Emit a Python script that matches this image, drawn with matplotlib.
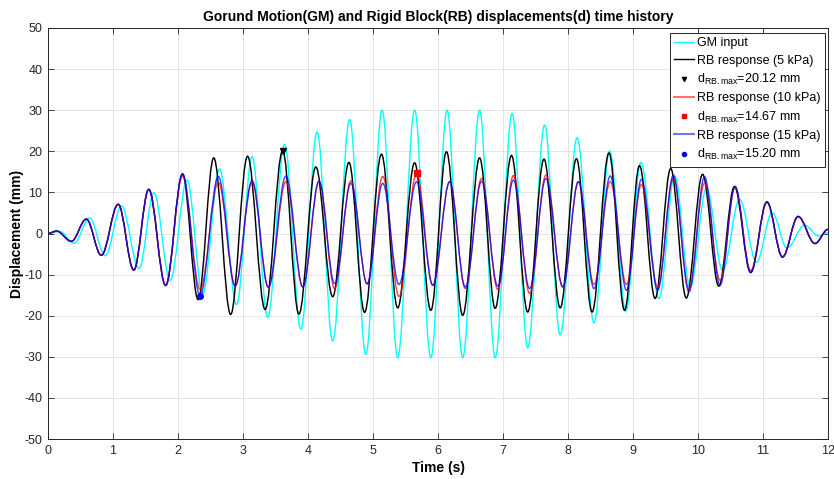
import matplotlib
matplotlib.use('Agg')
import matplotlib.pyplot as plt
from matplotlib.path import Path
from matplotlib.patches import PathPatch
from matplotlib.lines import Line2D

plt.rcParams['font.family'] = ['Liberation Sans', 'DejaVu Sans']
plt.rcParams['mathtext.fontset'] = 'custom'
plt.rcParams['mathtext.rm'] = 'Liberation Sans'
plt.rcParams['mathtext.it'] = 'Liberation Sans:italic'
plt.rcParams['mathtext.bf'] = 'Liberation Sans:bold'
plt.rcParams['axes.unicode_minus'] = False

# ---------------- data: extrema (time, displacement) ----
gm_t = [0, 0.18, 0.40, 0.64, 0.88, 1.13, 1.40, 1.63, 1.88, 2.14, 2.38, 2.64, 2.90,
        3.14, 3.38, 3.64, 3.89, 4.14, 4.38, 4.64, 4.89, 5.14, 5.38, 5.64, 5.89,
        6.14, 6.38, 6.64, 6.88, 7.14, 7.38, 7.64, 7.88, 8.14, 8.40, 8.64, 8.89,
        9.12, 9.40, 9.64, 9.88, 10.13, 10.38, 10.64, 10.90, 11.14, 11.37, 11.64,
        11.86, 12.0]
gm_d = [0, 0.5, -2.4, 3.8, -5.4, 6.7, -8.5, 9.9, -11.4, 13.0, -14.6, 15.7, -17.3,
        18.7, -20.4, 21.7, -23.3, 24.7, -26.2, 27.7, -29.4, 30.0, -30.2, 30.0, -30.2,
        30.0, -30.2, 30.0, -30.2, 29.2, -27.8, 26.4, -24.7, 23.3, -21.7, 20.1, -18.9,
        17.3, -15.8, 14.0, -13.0, 11.0, -9.0, 8.3, -7.0, 5.1, -3.5, 2.0,
        -0.6, 0.2]

rb5_t = [0, 0.13, 0.36, 0.59, 0.82, 1.08, 1.32, 1.55, 1.81, 2.07, 2.31, 2.55, 2.81,
         3.07, 3.34, 3.61, 3.86, 4.12, 4.38, 4.63, 4.87, 5.13, 5.38, 5.64, 5.89,
         6.13, 6.38, 6.64, 6.88, 7.13, 7.38, 7.63, 7.88, 8.13, 8.37, 8.63, 8.87,
         9.10, 9.34, 9.58, 9.82, 10.07, 10.32, 10.56, 10.81, 11.06, 11.30, 11.54,
         11.80, 12.0]
rb5_d = [0, 0.6, -1.9, 3.5, -5.3, 7.1, -8.9, 10.7, -12.6, 14.4, -16.1, 18.4, -19.7,
         18.8, -18.5, 20.12, -19.6, 16.2, -15.4, 17.3, -19.2, 19.3, -18.1, 17.2, -18.7,
         19.9, -19.9, 18.4, -18.2, 19.0, -19.1, 18.1, -18.1, 18.2, -19.1, 19.6, -18.7,
         16.5, -15.8, 15.8, -15.7, 14.4, -12.8, 11.4, -9.5, 7.7, -5.7, 4.1,
         -2.4, 1.0]

rb10_t = [0, 0.13, 0.36, 0.59, 0.82, 1.08, 1.32, 1.55, 1.81, 2.07, 2.34, 2.62, 2.88,
          3.14, 3.39, 3.66, 3.92, 4.17, 4.41, 4.66, 4.91, 5.15, 5.40, 5.67, 5.92,
          6.18, 6.42, 6.67, 6.92, 7.16, 7.41, 7.66, 7.92, 8.16, 8.40, 8.65, 8.90,
          9.13, 9.38, 9.62, 9.86, 10.10, 10.34, 10.57, 10.81, 11.06, 11.30, 11.54,
          11.80, 12.0]
rb10_d = [0, 0.6, -1.9, 3.5, -5.3, 7.1, -8.9, 10.7, -12.6, 14.0, -13.6, 12.5, -12.7,
          12.5, -13.2, 12.6, -13.0, 12.6, -13.4, 12.8, -12.2, 13.9, -15.3, 14.67, -12.6,
          12.6, -13.4, 13.4, -13.6, 14.1, -14.6, 14.2, -13.0, 12.6, -12.4, 12.6, -12.4,
          11.9, -13.0, 13.4, -13.4, 12.2, -11.4, 11.2, -9.0, 7.5, -5.6, 4.0,
          -2.4, 1.0]

rb15_t = rb10_t
rb15_d = [0, 0.6, -1.9, 3.5, -5.3, 7.1, -8.9, 10.8, -12.7, 14.6, -15.2, 13.9, -12.8,
          12.9, -13.0, 14.0, -13.0, 12.8, -12.2, 12.2, -12.3, 12.2, -12.4, 12.6, -12.6,
          12.6, -13.0, 12.7, -12.8, 13.0, -13.4, 13.4, -13.0, 12.6, -13.4, 14.0, -13.8,
          13.2, -13.8, 14.2, -14.2, 13.8, -12.6, 11.5, -9.5, 7.7, -5.8, 4.2,
          -2.5, 1.0]

# maxima markers
max_t = [3.61, 5.67, 2.34]
max_d = [20.12, 14.67, -15.20]

series_labels = ['GM input', 'RB response (5 kPa)', 'RB response (10 kPa)',
                 'RB response (15 kPa)']
max_labels = [r'd$_{\mathrm{RB.max}}$=20.12 mm', r'd$_{\mathrm{RB.max}}$=14.67 mm',
              r'd$_{\mathrm{RB.max}}$=15.20 mm']
x_ticks = list(range(0, 13))
y_ticks = list(range(-50, 51, 10))


def wave_path(ts, vs):
    """Smooth path through the extrema using cubic Bezier segments with flat
    tangents at each extremum (drawn by matplotlib's Path machinery)."""
    k = 0.3634
    verts = [(ts[0], vs[0])]
    codes = [Path.MOVETO]
    for i in range(1, len(ts)):
        dt = ts[i] - ts[i - 1]
        verts += [(ts[i - 1] + k * dt, vs[i - 1]), (ts[i] - k * dt, vs[i]), (ts[i], vs[i])]
        codes += [Path.CURVE4] * 3
    return Path(verts, codes)


fig = plt.figure(figsize=(8.34, 4.79), dpi=100)
ax = fig.add_axes([48 / 834, 40 / 479, 780 / 834, 411 / 479])

axcol = '#262626'
ax.set_xlim(0, 12)
ax.set_ylim(-50, 50)
ax.set_xticks(x_ticks)
ax.set_yticks(y_ticks)
ax.grid(True, color='#dfdfdf', linewidth=0.6)
ax.set_axisbelow(True)
ax.tick_params(direction='in', top=True, right=True, length=4, width=0.6,
               colors=axcol, labelsize=9, pad=4)
for s in ax.spines.values():
    s.set_color(axcol)
    s.set_linewidth(0.7)

styles = [
    dict(color='#00ffff', alpha=1.0, lw=1.0),
    dict(color='#000000', alpha=1.0, lw=1.05),
    dict(color='#ff0000', alpha=0.75, lw=1.0),
    dict(color='#0000ff', alpha=0.75, lw=1.0),
]
data = [(gm_t, gm_d), (rb5_t, rb5_d), (rb10_t, rb10_d), (rb15_t, rb15_d)]
for (ts, vs), st in zip(data, styles):
    p = PathPatch(wave_path(ts, vs), facecolor='none', edgecolor=st['color'],
                  alpha=st['alpha'], linewidth=st['lw'], transform=ax.transData,
                  capstyle='round', joinstyle='round')
    ax.add_patch(p)

mk_styles = [dict(marker='v', color='#000000', ms=5),
             dict(marker='s', color='#ff0000', ms=5),
             dict(marker='o', color='#0000ff', ms=4)]
for t, d, ms in zip(max_t, max_d, mk_styles):
    ax.plot([t], [d], linestyle='none', marker=ms['marker'], color=ms['color'],
            markersize=ms['ms'], zorder=5)

handles = [
    Line2D([], [], color=styles[0]['color'], lw=1.0),
    Line2D([], [], color=styles[1]['color'], lw=1.0),
    Line2D([], [], linestyle='none', marker='v', color='k', markersize=3),
    Line2D([], [], color=styles[2]['color'], alpha=0.55, lw=1.5),
    Line2D([], [], linestyle='none', marker='s', color='#ff0000', markersize=3),
    Line2D([], [], color=styles[3]['color'], alpha=0.55, lw=1.5),
    Line2D([], [], linestyle='none', marker='o', color='#0000ff', markersize=3),
]
labels = [series_labels[0], series_labels[1], max_labels[0], series_labels[2],
          max_labels[1], series_labels[3], max_labels[2]]
leg = ax.legend(handles, labels, loc='upper right',
                bbox_to_anchor=((825 - 48) / 780, (439 - 33) / 411),
                borderaxespad=0, fontsize=9, frameon=True, fancybox=False,
                framealpha=1, edgecolor=axcol, handlelength=1.6,
                handletextpad=0.25, labelspacing=0.42, borderpad=0.35)
leg.get_frame().set_linewidth(0.7)

ax.set_title('Gorund Motion(GM) and Rigid Block(RB) displacements(d) time history',
             fontsize=10, fontweight='bold', pad=5)
ax.set_xlabel('Time (s)', fontsize=10, fontweight='bold', labelpad=3)
ax.set_ylabel('Displacement (mm)', fontsize=10, fontweight='bold', labelpad=0)

fig.savefig('out.png', dpi=100)
